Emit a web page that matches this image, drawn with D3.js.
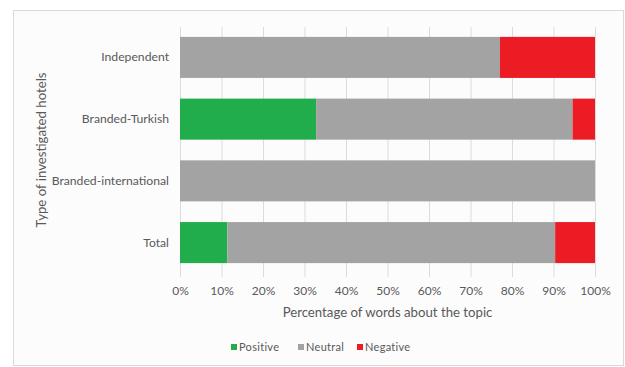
<!DOCTYPE html>
<html>
<head>
<meta charset="utf-8">
<script src="https://cdn.jsdelivr.net/npm/d3@7"></script>
<style>
  html, body { margin: 0; padding: 0; background: #ffffff; }
  svg text { font-family: Lato, "Open Sans", sans-serif; fill: #595959; }
</style>
</head>
<body>
<svg id="chart" width="625" height="367"></svg>
<script>
// Hotel categories, top to bottom
const categories = ["Independent", "Branded-Turkish", "Branded-international", "Total"];
// Share of words per sentiment (%)
const positive = [0, 32.8, 0, 11.4];
const neutral  = [77.1, 61.8, 100, 79.0];
const negative = [22.9, 5.4, 0, 9.6];
const seriesNames = ["Positive", "Neutral", "Negative"];
const seriesColors = ["#22ad4c", "#a3a3a3", "#ec1c24"];
const xTicks = [0, 10, 20, 30, 40, 50, 60, 70, 80, 90, 100];

const svg = d3.select("#chart");

// Outer frame
svg.append("rect")
  .attr("x", 13.5).attr("y", 10.5)
  .attr("width", 610).attr("height", 355)
  .attr("fill", "#fcfcfc").attr("stroke", "#d9d9d9");

const x = d3.scaleLinear().domain([0, 100]).range([180, 595]);
const y = d3.scaleBand().domain(categories).range([27, 273]).paddingInner(0.335).paddingOuter(0.16);

// Vertical gridlines
svg.append("g").selectAll("line").data(xTicks).join("line")
  .attr("x1", d => x(d) + 0.5).attr("x2", d => x(d) + 0.5)
  .attr("y1", 27).attr("y2", 277)
  .attr("stroke", "#dcdcdc").attr("stroke-width", 1);

// Stacked data
const rows = categories.map((c, i) => ({ cat: c, Positive: positive[i], Neutral: neutral[i], Negative: negative[i] }));
const stack = d3.stack().keys(seriesNames)(rows);

svg.append("g").selectAll("g").data(stack).join("g")
  .attr("fill", (d, i) => seriesColors[i])
  .selectAll("rect").data(d => d).join("rect")
  .attr("x", d => x(d[0]))
  .attr("y", d => y(d.data.cat))
  .attr("width", d => Math.max(0, x(d[1]) - x(d[0])))
  .attr("height", y.bandwidth());

// X axis tick labels
const xAxis = d3.axisBottom(x).tickValues(xTicks).tickSize(0).tickPadding(0).tickFormat(d => d + "%");
const gx = svg.append("g").attr("transform", "translate(0,291)").call(xAxis);
gx.select(".domain").remove();
gx.selectAll("text").attr("font-size", 12).attr("dy", "0.35em").attr("fill", "#595959")
  .attr("font-family", "Lato, sans-serif");

// Y axis category labels
const yAxis = d3.axisLeft(y).tickSize(0).tickPadding(11);
const gy = svg.append("g").attr("transform", "translate(180,0)").call(yAxis);
gy.select(".domain").remove();
gy.selectAll("text").attr("font-size", 12.2).attr("fill", "#595959")
  .attr("font-family", "Lato, sans-serif");

// Axis titles
svg.append("text")
  .attr("x", 387.5).attr("y", 312).attr("dy", "0.35em")
  .attr("text-anchor", "middle").attr("font-size", 13.2)
  .text("Percentage of words about the topic");

svg.append("text")
  .attr("transform", "translate(41,150) rotate(-90)")
  .attr("dy", "0.35em")
  .attr("text-anchor", "middle").attr("font-size", 13.2)
  .text("Type of investigated hotels");

// Legend
const legendX = [231, 298, 357];
const legend = svg.append("g").selectAll("g").data(seriesNames).join("g")
  .attr("transform", (d, i) => `translate(${legendX[i]},347)`);
legend.append("rect")
  .attr("x", 0).attr("y", -3).attr("width", 6).attr("height", 6)
  .attr("fill", (d, i) => seriesColors[i]);
legend.append("text")
  .attr("x", 8).attr("dy", "0.35em").attr("font-size", 11)
  .attr("letter-spacing", "0.3px")
  .text(d => d);
</script>
</body>
</html>
